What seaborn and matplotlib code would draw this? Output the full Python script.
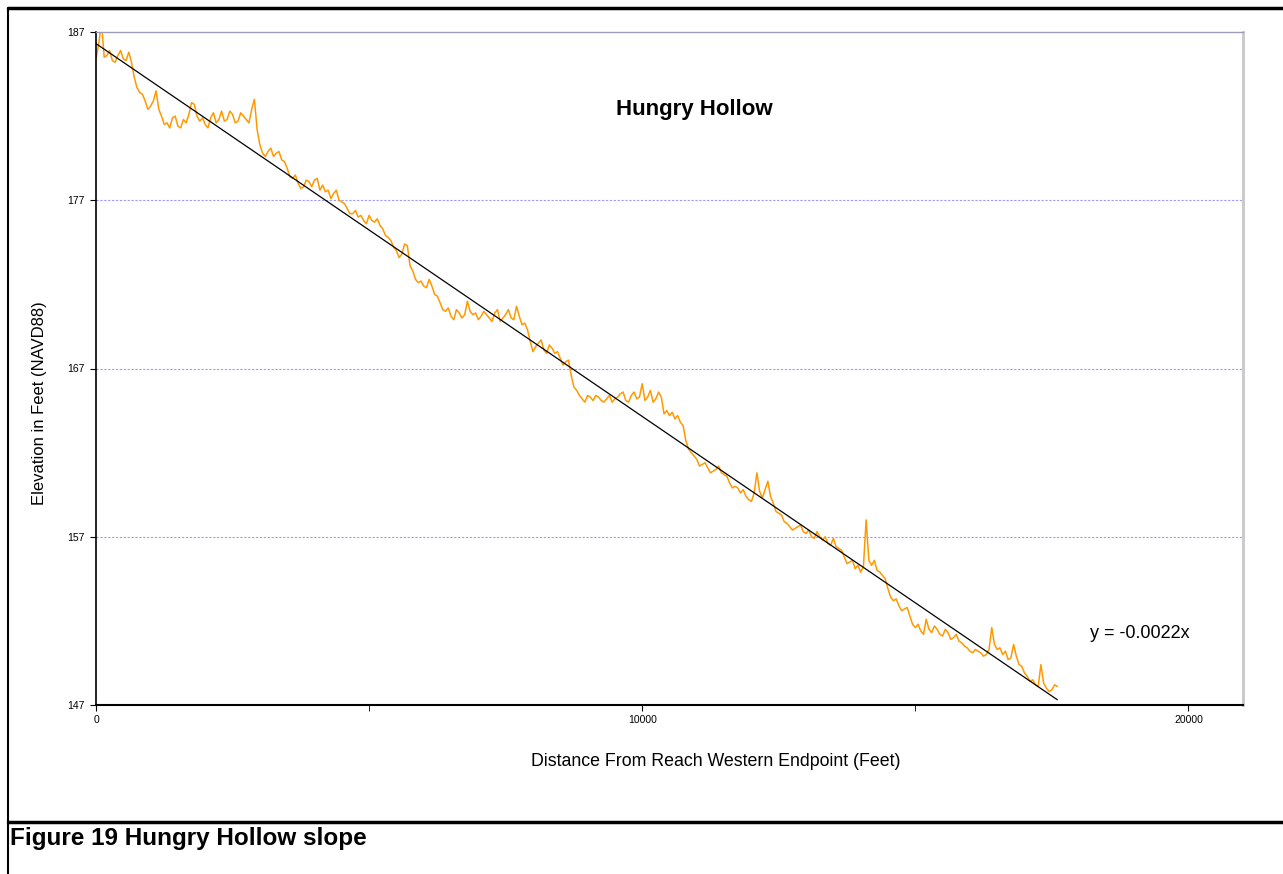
import matplotlib
matplotlib.use("Agg")
import matplotlib.pyplot as plt
from matplotlib.lines import Line2D
import numpy as np
import pandas as pd
import seaborn as sns

# survey stations, distance from reach western endpoint (ft)
distance_ft = [
    0, 100, 200, 300, 400, 500, 600, 700, 800, 900,
    1000, 1100, 1200, 1300, 1400, 1500, 1600, 1700, 1800, 1900,
    2000, 2100, 2200, 2300, 2400, 2500, 2600, 2700, 2800, 2900,
    3000, 3100, 3200, 3300, 3400, 3500, 3600, 3700, 3800, 3900,
    4000, 4100, 4200, 4300, 4400, 4500, 4600, 4700, 4800, 4900,
    5000, 5100, 5200, 5300, 5400, 5500, 5600, 5700, 5800, 5900,
    6000, 6100, 6200, 6300, 6400, 6500, 6600, 6700, 6800, 6900,
    7000, 7100, 7200, 7300, 7400, 7500, 7600, 7700, 7800, 7900,
    8000, 8100, 8200, 8300, 8400, 8500, 8600, 8700, 8800, 8900,
    9000, 9100, 9200, 9300, 9400, 9500, 9600, 9700, 9800, 9900,
    10000, 10100, 10200, 10300, 10400, 10500, 10600, 10700, 10800, 10900,
    11000, 11100, 11200, 11300, 11400, 11500, 11600, 11700, 11800, 11900,
    12000, 12100, 12200, 12300, 12400, 12500, 12600, 12700, 12800, 12900,
    13000, 13100, 13200, 13300, 13400, 13500, 13600, 13700, 13800, 13900,
    14000, 14100, 14200, 14300, 14400, 14500, 14600, 14700, 14800, 14900,
    15000, 15100, 15200, 15300, 15400, 15500, 15600, 15700, 15800, 15900,
    16000, 16100, 16200, 16300, 16400, 16500, 16600, 16700, 16800, 16900,
    17000, 17100, 17200, 17300, 17400, 17500, 17600,
]

# elevation at those stations (ft, NAVD88)
elevation_ft = [
    185.4, 187.6, 185.6, 185.3, 185.6, 185.4, 185.8, 184.3, 183.4, 182.9,
    182.6, 183.5, 182.0, 181.6, 181.9, 181.4, 181.8, 182.1, 182.7, 181.7,
    181.5, 181.9, 181.6, 182.3, 181.8, 182.1, 181.7, 182.0, 181.6, 183.0,
    180.3, 179.6, 180.1, 179.8, 179.4, 178.9, 178.3, 178.0, 177.8, 178.1,
    178.2, 177.6, 177.5, 177.1, 177.6, 176.9, 176.5, 176.2, 176.0, 175.8,
    176.1, 175.7, 175.5, 174.9, 174.6, 174.0, 173.8, 174.3, 172.8, 172.1,
    171.9, 172.3, 171.4, 170.9, 170.4, 170.1, 170.5, 170.0, 171.0, 170.2,
    169.9, 170.4, 170.0, 170.3, 169.8, 170.2, 170.0, 170.7, 169.6, 169.3,
    168.0, 168.5, 168.1, 168.4, 167.9, 167.6, 167.4, 166.6, 165.7, 165.2,
    165.4, 165.1, 165.3, 165.0, 165.4, 165.2, 165.5, 165.1, 165.4, 165.2,
    166.1, 165.3, 165.0, 165.6, 164.3, 164.2, 164.0, 163.8, 162.7, 162.0,
    161.6, 161.3, 161.1, 160.9, 161.2, 160.7, 160.2, 160.0, 159.6, 159.4,
    159.1, 160.8, 159.3, 160.3, 159.0, 158.4, 157.9, 157.6, 157.5, 157.7,
    157.2, 157.0, 157.3, 156.8, 156.6, 156.9, 156.3, 155.8, 155.5, 155.1,
    154.9, 158.0, 155.3, 155.0, 154.7, 153.9, 153.2, 152.9, 152.7, 152.3,
    151.6, 151.4, 152.1, 151.3, 151.5, 151.1, 151.3, 151.0, 150.8, 150.5,
    150.2, 150.3, 150.1, 150.0, 151.6, 150.3, 150.0, 149.7, 150.6, 149.4,
    148.9, 148.4, 148.2, 149.4, 148.0, 147.9, 148.1,
]

# intermediate shots between stations (ft)
distance_mid_ft = [
    50, 150, 250, 350, 450, 550, 650, 750, 850, 950,
    1050, 1150, 1250, 1350, 1450, 1550, 1650, 1750, 1850, 1950,
    2050, 2150, 2250, 2350, 2450, 2550, 2650, 2750, 2850, 2950,
    3050, 3150, 3250, 3350, 3450, 3550, 3650, 3750, 3850, 3950,
    4050, 4150, 4250, 4350, 4450, 4550, 4650, 4750, 4850, 4950,
    5050, 5150, 5250, 5350, 5450, 5550, 5650, 5750, 5850, 5950,
    6050, 6150, 6250, 6350, 6450, 6550, 6650, 6750, 6850, 6950,
    7050, 7150, 7250, 7350, 7450, 7550, 7650, 7750, 7850, 7950,
    8050, 8150, 8250, 8350, 8450, 8550, 8650, 8750, 8850, 8950,
    9050, 9150, 9250, 9350, 9450, 9550, 9650, 9750, 9850, 9950,
    10050, 10150, 10250, 10350, 10450, 10550, 10650, 10750, 10850, 10950,
    11050, 11150, 11250, 11350, 11450, 11550, 11650, 11750, 11850, 11950,
    12050, 12150, 12250, 12350, 12450, 12550, 12650, 12750, 12850, 12950,
    13050, 13150, 13250, 13350, 13450, 13550, 13650, 13750, 13850, 13950,
    14050, 14150, 14250, 14350, 14450, 14550, 14650, 14750, 14850, 14950,
    15050, 15150, 15250, 15350, 15450, 15550, 15650, 15750, 15850, 15950,
    16050, 16150, 16250, 16350, 16450, 16550, 16650, 16750, 16850, 16950,
    17050, 17150, 17250, 17350, 17450, 17550,
]

elevation_mid_ft = [
    186.3, 185.5, 185.9, 185.2, 185.9, 185.3, 185.2, 183.7, 183.3, 182.4,
    182.9, 182.4, 181.5, 181.3, 182.0, 181.3, 181.6, 182.8, 182.0, 181.9,
    181.3, 182.2, 181.8, 181.7, 182.3, 181.6, 182.2, 181.8, 182.4, 181.2,
    179.8, 179.9, 179.6, 179.9, 179.3, 178.4, 178.5, 177.7, 178.2, 177.8,
    178.3, 177.9, 177.6, 177.4, 177.0, 176.8, 176.2, 176.4, 176.1, 175.6,
    175.8, 175.9, 175.3, 174.8, 174.2, 173.6, 174.4, 173.1, 172.3, 172.2,
    171.8, 171.9, 171.3, 170.5, 170.6, 169.9, 170.3, 170.2, 170.4, 170.3,
    170.1, 170.2, 169.8, 170.5, 170.0, 170.5, 169.9, 170.1, 169.7, 168.6,
    168.3, 168.7, 167.9, 168.2, 168.0, 167.2, 167.5, 165.9, 165.4, 165.0,
    165.3, 165.4, 165.1, 165.2, 165.0, 165.3, 165.6, 165.0, 165.6, 165.3,
    165.1, 165.7, 165.2, 165.3, 164.5, 164.4, 164.2, 163.6, 162.2, 161.8,
    161.2, 161.4, 160.8, 161.0, 160.8, 160.6, 159.9, 159.9, 159.8, 159.2,
    159.6, 159.7, 159.8, 159.4, 158.5, 158.3, 157.8, 157.4, 157.6, 157.3,
    157.4, 156.9, 157.0, 157.0, 156.5, 156.4, 156.2, 155.4, 155.6, 155.3,
    155.2, 155.6, 155.6, 154.9, 154.5, 153.4, 153.3, 152.6, 152.8, 151.8,
    151.8, 151.2, 151.5, 151.7, 151.2, 151.5, 150.9, 151.2, 150.7, 150.4,
    150.1, 150.2, 149.9, 150.3, 150.6, 150.4, 150.2, 149.8, 149.9, 149.3,
    148.7, 148.5, 148.1, 148.3, 147.8, 148.2,
]

x_ticks = [0, 10000, 20000]
x_minor_ticks = [5000, 15000]
y_ticks = [147, 157, 167, 177, 187]

title = "Hungry Hollow"
equation = "y = -0.0022x"
x_label = "Distance From Reach Western Endpoint (Feet)"
y_label = "Elevation in Feet (NAVD88)"
caption = "Figure 19 Hungry Hollow slope"

df = pd.concat([
    pd.DataFrame({"distance": distance_ft, "elevation": elevation_ft}),
    pd.DataFrame({"distance": distance_mid_ft, "elevation": elevation_mid_ft}),
]).sort_values("distance").reset_index(drop=True)

sns.set_style("white")
plt.rcParams["font.family"] = ["Liberation Sans", "DejaVu Sans"]
plt.rcParams["text.color"] = "black"
plt.rcParams["xtick.color"] = "black"
plt.rcParams["ytick.color"] = "black"

fig = plt.figure(figsize=(12.83, 8.74), dpi=100)
ax = fig.add_axes([96 / 1283, 1 - 705 / 874, (1243 - 96) / 1283, (705 - 32) / 874])

sns.lineplot(data=df, x="distance", y="elevation", color="#FF9900", lw=1.1, ax=ax)
sns.regplot(data=df, x="distance", y="elevation", scatter=False, ci=None,
            line_kws={"color": "black", "lw": 0.9}, ax=ax)

ax.set_xlim(0, 21000)
ax.set_ylim(147, 187)
ax.set_xticks(x_ticks)
ax.set_xticks(x_minor_ticks, minor=True)
ax.set_yticks(y_ticks)
ax.tick_params(axis="both", which="both", labelsize=7.5, direction="out", colors="black")
ax.tick_params(axis="x", which="major", length=4, pad=3, bottom=True)
ax.tick_params(axis="x", which="minor", length=4, bottom=True)
ax.tick_params(axis="y", length=4, pad=4, left=True)

for yv in y_ticks[1:-1]:
    ax.axhline(yv, color="#9a9aff", lw=0.8, ls=(0, (2, 1.5)), zorder=0)

ax.spines["left"].set_color("black")
ax.spines["bottom"].set_color("black")
ax.spines["left"].set_linewidth(1.2)
ax.spines["bottom"].set_linewidth(1.5)
ax.spines["top"].set_color("#9c9cb8")
ax.spines["top"].set_linewidth(1.0)
ax.spines["right"].set_color("#c8c8c8")
ax.spines["right"].set_linewidth(2.0)

ax.set_xlabel("")
ax.set_ylabel("")
fig.text(716 / 1283, 1 - 762 / 874, x_label, ha="center", va="center", fontsize=12.8)
fig.text(40 / 1283, 1 - 403 / 874, y_label, ha="center", va="center", fontsize=12, rotation=90)
fig.text(694 / 1283, 1 - 110 / 874, title, ha="center", va="center",
         fontsize=16, fontweight="bold")
fig.text(1140 / 1283, 1 - 633 / 874, equation, ha="center", va="center", fontsize=13)
fig.text(10 / 1283, 1 - 838 / 874, caption, ha="left", va="center", fontsize=17.5, fontweight="bold")

# page frame lines
fig.add_artist(Line2D([8 / 1283, 1], [1 - 8 / 874, 1 - 8 / 874], color="black", lw=2.5))
fig.add_artist(Line2D([8 / 1283, 8 / 1283], [0, 1 - 8 / 874], color="black", lw=1.5))
fig.add_artist(Line2D([8 / 1283, 1], [1 - 822 / 874, 1 - 822 / 874], color="black", lw=2.5))

fig.savefig("out.png", dpi=100)
plt.close(fig)
